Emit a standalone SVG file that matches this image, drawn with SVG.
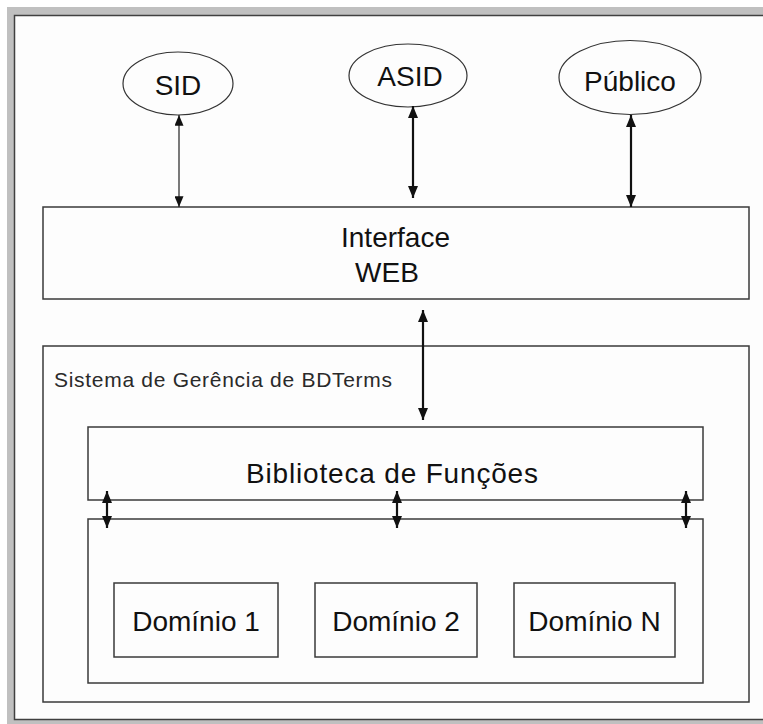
<svg xmlns="http://www.w3.org/2000/svg" width="763" height="724" viewBox="0 0 763 724">
<style>
.box{fill:none;stroke:#3a3a3a;stroke-width:1.5}
.ell{fill:#fdfdfd;stroke:#333;stroke-width:1.2}
.lbl{font-family:"Liberation Sans",Arial,sans-serif;font-size:28px;fill:#111;text-anchor:middle}
.small{font-family:"Liberation Sans",Arial,sans-serif;font-size:21px;fill:#2a2a2a}
.thin{stroke:#222;stroke-width:1.2;fill:none}
.thick{stroke:#111;stroke-width:2.2;fill:none}
</style>
<defs>
<marker id="ah" viewBox="0 0 12 10" refX="12" refY="5" markerWidth="12" markerHeight="10" markerUnits="userSpaceOnUse" orient="auto-start-reverse">
<path d="M0,0 L12,5 L0,10 z" fill="#111"/>
</marker>
<marker id="ahs" viewBox="0 0 12 10" refX="12" refY="5" markerWidth="11" markerHeight="9" markerUnits="userSpaceOnUse" orient="auto-start-reverse">
<path d="M0,0 L12,5 L0,10 z" fill="#111"/>
</marker>
</defs>
<rect x="0" y="0" width="763" height="724" fill="#ffffff"/>
<g id="frame">
<path d="M7,7 H763 V724 H7 Z" fill="#c0c0c0"/>
<rect x="14.5" y="15.5" width="780" height="704" fill="#fdfdfd" stroke="#404040" stroke-width="1.5"/>
</g>
<g id="sid">
<ellipse class="ell" cx="178" cy="83.5" rx="55" ry="31.5"/>
<text class="lbl" x="178" y="95">SID</text>
</g>
<g id="asid">
<ellipse class="ell" cx="408" cy="75.5" rx="59" ry="31.5"/>
<text class="lbl" x="410" y="86">ASID</text>
</g>
<g id="publico">
<ellipse class="ell" cx="630" cy="77.5" rx="71" ry="37"/>
<text class="lbl" x="630" y="91">Público</text>
</g>
<g id="interface">
<rect class="box" x="43" y="207" width="706" height="92"/>
<text class="lbl" x="395.5" y="247">Interface</text>
<text class="lbl" x="387" y="282">WEB</text>
</g>
<g id="sistema">
<rect class="box" x="43" y="346" width="706" height="356"/>
<text class="small" x="54" y="387" textLength="338" lengthAdjust="spacing">Sistema de Gerência de BDTerms</text>
</g>
<g id="biblioteca">
<rect class="box" x="88" y="427" width="615" height="73"/>
<text class="lbl" x="392" y="483" textLength="292" lengthAdjust="spacing">Biblioteca de Funções</text>
</g>
<g id="dominios">
<rect class="box" x="88" y="519" width="615" height="164"/>
</g>
<g id="dominio1">
<rect class="box" x="114" y="583" width="164" height="74"/>
<text class="lbl" x="196" y="631">Domínio 1</text>
</g>
<g id="dominio2">
<rect class="box" x="315" y="583" width="162" height="74"/>
<text class="lbl" x="396" y="631">Domínio 2</text>
</g>
<g id="dominioN">
<rect class="box" x="514" y="583" width="161" height="74"/>
<text class="lbl" x="594.5" y="631">Domínio N</text>
</g>
<g id="connectors">
<line class="thin" x1="179" y1="115" x2="179" y2="207" marker-start="url(#ahs)" marker-end="url(#ahs)"/>
<line class="thick" x1="413" y1="106" x2="413" y2="198" marker-start="url(#ah)" marker-end="url(#ah)"/>
<line class="thick" x1="631" y1="115" x2="631" y2="207" marker-start="url(#ah)" marker-end="url(#ah)"/>
<line class="thick" x1="423" y1="310" x2="423" y2="420" marker-start="url(#ah)" marker-end="url(#ah)"/>
<line class="thick" x1="107" y1="491" x2="107" y2="528" marker-start="url(#ah)" marker-end="url(#ah)"/>
<line class="thick" x1="397" y1="491" x2="397" y2="528" marker-start="url(#ah)" marker-end="url(#ah)"/>
<line class="thick" x1="686" y1="491" x2="686" y2="528" marker-start="url(#ah)" marker-end="url(#ah)"/>
</g>
</svg>
